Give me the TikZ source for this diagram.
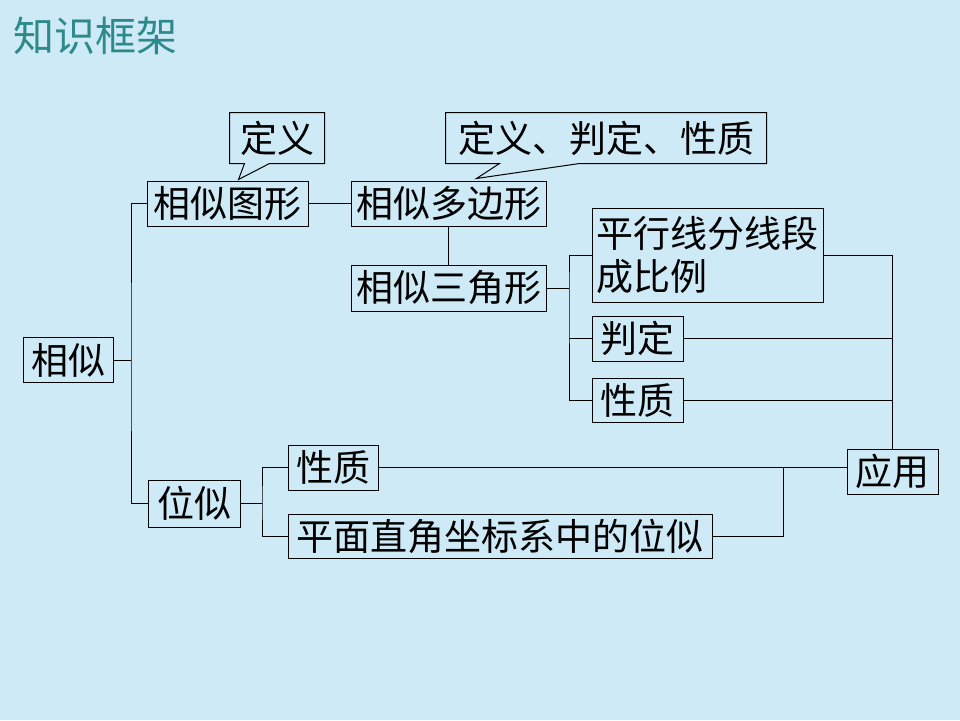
\documentclass[tikz,border=0pt]{standalone}
\usepackage{fontspec}
\newfontfamily\cjk{Noto Sans CJK SC}
\usetikzlibrary{positioning,calc}
\definecolor{PageColor}{RGB}{206,234,246}
\definecolor{TitleColor}{RGB}{45,138,140}

\begin{document}
\begin{tikzpicture}[x=1pt, y=-1pt,
    font=\cjk\fontsize{37}{43}\selectfont,
    box/.style={draw, line width=1pt, inner sep=0pt, minimum height=45pt, align=center},
    callout/.style={box, draw=none, minimum height=50pt},
    link/.style={line width=0.8pt}]

    \fill[PageColor] (0,0) rectangle (960,720);
    \useasboundingbox (0,0) rectangle (960,720);

    \node[font=\cjk\fontsize{41}{44}\selectfont, text=TitleColor, anchor=west] (Title) at (10,36) {知识框架};

    % tree boxes
    \node[box, minimum width=90pt] (XS) at (68,360) {相似};
    \node[box, minimum width=161pt] (TX) at (227.5,203.5) {相似图形};
    \node[box, minimum width=195pt] (DBX) at (448.5,203.5) {相似多边形};
    \node[box, minimum width=195pt, minimum height=46pt] (SJX) at (448.5,288) {相似三角形};
    \node[box, align=left, text width=222pt, inner xsep=4.5pt, minimum height=94pt] (PXX) at (707.5,255) {平行线分线段\\成比例};
    \node[box, minimum width=91pt] (PD) at (637.5,338.5) {判定};
    \node[box, minimum width=91pt, minimum height=44pt] (XZ) at (637.5,400) {性质};
    \node[box, minimum width=91pt] (YY) at (892.5,471.5) {应用};
    \node[box, minimum width=92pt, minimum height=47pt] (WS) at (194,503.5) {位似};
    \node[box, minimum width=90pt] (WXZ) at (333,467.5) {性质};
    \node[box, minimum width=424pt, minimum height=44pt] (ZB) at (500,536) {平面直角坐标系中的位似};

    % callouts
    \node[callout, minimum width=94pt] (DY) at (277,138) {定义};
    \node[callout, minimum width=320pt] (DPX) at (606,138) {定义、判定、性质};
    \draw[line width=1pt] (DY.south west) -- (DY.north west) -- (DY.north east) -- (DY.south east)
        -- ([xshift=40pt]DY.south west) -- ([xshift=9pt,yshift=-16pt]DY.south west)
        -- ([xshift=15pt]DY.south west) -- cycle;
    \draw[line width=1pt] (DPX.south west) -- (DPX.north west) -- (DPX.north east) -- (DPX.south east)
        -- ([xshift=134pt]DPX.south west) -- ([xshift=31pt,yshift=-15pt]DPX.south west)
        -- ([xshift=54pt]DPX.south west) -- cycle;

    % bracket points
    \coordinate (LB) at (131,360);
    \coordinate (MB) at (569,288);
    \coordinate (WB) at (262,503.5);
    \coordinate (JN) at (783,467.5);

    \foreach \from/\to in {XS.east/LB, TX/DBX, DBX/SJX, SJX.east/MB, WS.east/WB}
    \draw[link] (\from)--(\to);

    \draw[link] (TX.west) -| (LB) |- (WS.west);
    \draw[link] (PXX.west) -| (MB) |- (XZ.west);
    \draw[link] (PD.west) -- (PD.west -| MB);
    \draw[link] (WXZ.west) -| (WB) |- (ZB.west);

    \draw[link] (PXX.east) -| (YY.north);
    \draw[link] (PD.east) -- (PD.east -| YY.north);
    \draw[link] (XZ.east) -- (XZ.east -| YY.north);
    \draw[link] (WXZ.east) -- (WXZ.east -| YY.west);
    \draw[link] (ZB.east) -| (JN);

\end{tikzpicture}
\end{document}
